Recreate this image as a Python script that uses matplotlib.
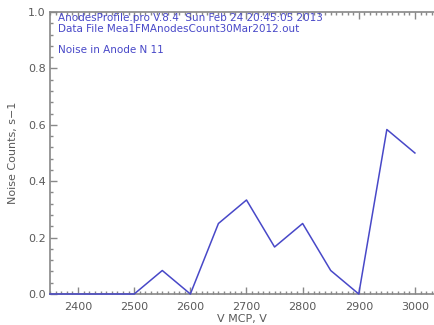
import numpy as np
import matplotlib.pyplot as plt
from matplotlib.ticker import MultipleLocator

# noise counts per MCP voltage step, anode 11
volts = [2350, 2400, 2450, 2500, 2550, 2600, 2650, 2700, 2750, 2800, 2850, 2900, 2950, 3000]
noise = [0.0, 0.0, 0.0, 0.0, 1/12, 0.0, 0.25, 1/3, 1/6, 0.25, 1/12, 0.0, 7/12, 0.5]

header = ["AnodesProfile.pro V.8.4  Sun Feb 24 20:45:05 2013",
          "Data File Mea1FMAnodesCount30Mar2012.out"]
title = "Noise in Anode N 11"

axis_col = "#888888"
text_col = "#5a5a5a"
blue = "#4848c8"

plt.rcParams['font.family'] = ['DejaVu Sans']

fig = plt.figure(figsize=(4.34, 3.25), dpi=100)
ax = fig.add_axes([50/434, 1 - 294/325, 384/434, 282/325])

ax.plot(volts, noise, color=blue, lw=1.1, clip_on=False, zorder=3)

ax.set_xlim(2350, 3034)
ax.set_ylim(0, 1.0)

ax.xaxis.set_major_locator(MultipleLocator(100))
ax.xaxis.set_minor_locator(MultipleLocator(10))
ax.yaxis.set_major_locator(MultipleLocator(0.2))
ax.yaxis.set_minor_locator(MultipleLocator(0.04))
ax.yaxis.set_major_formatter(lambda v, p: "%.1f" % v)

for s in ax.spines.values():
    s.set_color(axis_col)
    s.set_linewidth(1.2)
ax.spines['right'].set_visible(False)

ax.tick_params(which='both', direction='in', top=True, right=False,
               color=axis_col, labelcolor=text_col, labelsize=8)
ax.tick_params(which='major', length=5, width=1)
ax.tick_params(which='minor', length=2.5, width=1)
ax.tick_params(axis='x', pad=6)
ax.tick_params(axis='y', pad=3)

ax.set_xlabel("V MCP, V", color=text_col, fontsize=8, labelpad=1)
ax.set_ylabel("Noise Counts, s\u22121", color=text_col, fontsize=8, labelpad=7)

fig.text(58/434, 1 - 21/325, header[0], color=blue, fontsize=7.5, va='baseline')
fig.text(58/434, 1 - 32/325, header[1], color=blue, fontsize=7.5, va='baseline')
fig.text(58/434, 1 - 53/325, title, color=blue, fontsize=7.5, va='baseline')

fig.savefig("out.png", dpi=100)
